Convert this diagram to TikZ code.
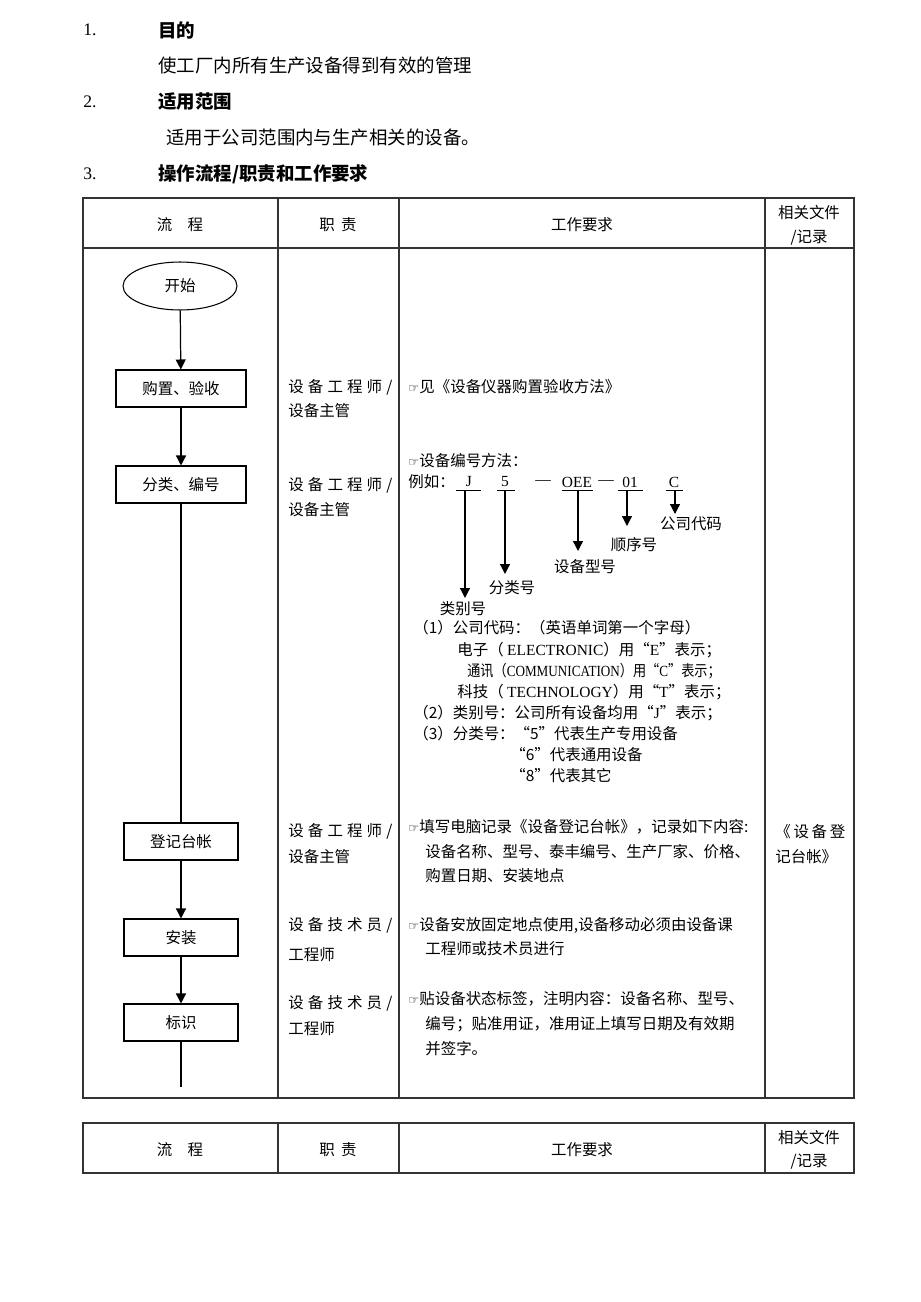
\documentclass[tikz,border=0pt]{standalone}
\usepackage{fontspec}
\setmainfont{Noto Sans CJK SC}
\newfontfamily\symfont{DejaVu Sans}
\newfontfamily\numfont{Liberation Serif}
\usetikzlibrary{shapes.geometric,arrows.meta}

\newcommand{\hand}{{\symfont\fontsize{7pt}{8pt}\selectfont ☞}}

\tikzset{
  every node/.style={inner sep=0pt},
  txt/.style={anchor=west,font=\fontsize{8.8pt}{10pt}\selectfont},
  big/.style={anchor=west,font=\fontsize{10.5pt}{12pt}\selectfont},
  bighd/.style={anchor=west,font=\fontsize{10.5pt}{12pt}\selectfont\bfseries},
  num/.style={anchor=west,font=\fontsize{10pt}{12pt}\numfont},
  hd/.style={font=\fontsize{8.8pt}{10pt}\selectfont},
  lbl/.style={font=\fontsize{8.8pt}{10pt}\selectfont},
  code/.style={font=\fontsize{8.8pt}{10pt}\numfont},
  widebox/.style={draw,line width=0.6pt,minimum width=2.6cm,minimum height=0.74cm,font=\fontsize{8.8pt}{10pt}\selectfont},
  smallbox/.style={draw,line width=0.6pt,minimum width=2.28cm,minimum height=0.74cm,font=\fontsize{8.8pt}{10pt}\selectfont},
  startshape/.style={draw,ellipse,line width=0.6pt,minimum width=2.28cm,minimum height=0.96cm,font=\fontsize{8.8pt}{10pt}\selectfont},
  flow/.style={line width=0.7pt},
  arr/.style={line width=0.7pt,-{Triangle[length=2mm,width=2mm]}},
  grid/.style={line width=0.6pt,black!80}
}

\begin{document}
\begin{tikzpicture}[x=0.02cm,y=-0.02cm]
\useasboundingbox (0,0) rectangle (920,1302);

% section headings
\node[num] (n1) at (83,30) {1.};
\node[bighd] (h1) at (158,30) {目的};
\node[big] (t1) at (158,66) {使工厂内所有生产设备得到有效的管理};
\node[num] (n2) at (83,102) {2.};
\node[bighd] (h2) at (158,102) {适用范围};
\node[big] (t2) at (166,138) {适用于公司范围内与生产相关的设备。};
\node[num] (n3) at (83,174) {3.};
\node[bighd] (h3) at (158,174) {操作流程/职责和工作要求};

% main table
\draw[grid] (83,198) rectangle (854,1098);
\draw[grid] (83,248) -- (854,248); % header line
\draw[grid] (278,198) -- (278,1098);
\draw[grid] (399,198) -- (399,1098);
\draw[grid] (765,198) -- (765,1098);

\node[hd] (colA) at (180,225) {流\hspace{1em}程};
\node[hd] (colB) at (338,225) {职\hspace{0.4em}责};
\node[hd] (colC) at (582,225) {工作要求};
\node[hd] (colD1) at (809,213) {相关文件};
\node[hd] (colD2) at (809,238) {/记录};

% flow column
\node[startshape] (start) at (180,286) {开始};
\node[widebox] (buy) at (181,388.5) {购置、验收};
\node[widebox] (sort) at (181,484.5) {分类、编号};
\node[smallbox] (book) at (181,841.5) {登记台帐};
\node[smallbox] (setup) at (181,937.5) {安装};
\node[smallbox] (mark) at (181,1022.5) {标识};
\coordinate (tail) at (181,1087);

\draw[arr] (start) -- (buy);
\draw[arr] (buy) -- (sort);
\draw[flow] (sort) -- (book);
\draw[arr] (book) -- (setup);
\draw[arr] (setup) -- (mark);
\draw[flow] (mark) -- (tail);

% duty column
\node[txt] (duty1a) at (288,387) {\makebox[2.08cm][s]{设 备 工 程 师 /}};
\node[txt] (duty1b) at (288,411) {设备主管};
\node[txt] (duty2a) at (288,485) {\makebox[2.08cm][s]{设 备 工 程 师 /}};
\node[txt] (duty2b) at (288,510) {设备主管};
\node[txt] (duty3a) at (288,831) {\makebox[2.08cm][s]{设 备 工 程 师 /}};
\node[txt] (duty3b) at (288,857) {设备主管};
\node[txt] (duty4a) at (288,925) {\makebox[2.08cm][s]{设 备 技 术 员 /}};
\node[txt] (duty4b) at (288,955) {工程师};
\node[txt] (duty5a) at (288,1003) {\makebox[2.08cm][s]{设 备 技 术 员 /}};
\node[txt] (duty5b) at (288,1029) {工程师};

% work requirements
\node[txt] (req1) at (408,387) {\hand 见《设备仪器购置验收方法》};
\node[txt] (req2a) at (408,461) {\hand 设备编号方法：};
\node[txt] (req2b) at (408,482) {例如：};

% numbering example
\node[code] (cJ) at (469,482) {J};
\node[code] (c5) at (505,482) {5};
\node[code] (dash1) at (543,482) {—};
\node[code] (cOEE) at (577,482) {OEE};
\node[code] (dash2) at (606,482) {—};
\node[code] (c01) at (630,482) {01};
\node[code] (cC) at (674,482) {C};

\coordinate (uJa) at (456,490);  \coordinate (uJb) at (481,490);
\coordinate (u5a) at (497,490);  \coordinate (u5b) at (515,490);
\coordinate (uOa) at (562,490);  \coordinate (uOb) at (593,490);
\coordinate (u1a) at (618,490);  \coordinate (u1b) at (643,490);
\coordinate (uCa) at (666,490);  \coordinate (uCb) at (683,490);
\draw (uJa) -- (uJb);
\draw (u5a) -- (u5b);
\draw (uOa) -- (uOb);
\draw (u1a) -- (u1b);
\draw (uCa) -- (uCb);

\node[lbl] (lbJ) at (463,609) {类别号};
\node[lbl] (lb5) at (512,588) {分类号};
\node[lbl] (lbO) at (585,567) {设备型号};
\node[lbl] (lb1) at (634,545) {顺序号};
\node[lbl] (lbC) at (691,524) {公司代码};

\coordinate (aJ) at (465,490);
\coordinate (a5) at (505,490);
\coordinate (aO) at (578,490);
\coordinate (a1) at (627,490);
\coordinate (aC) at (675,490);
\draw[arr] (aJ) -- (aJ |- 0,598);
\draw[arr] (a5) -- (a5 |- 0,574);
\draw[arr] (aO) -- (aO |- 0,551);
\draw[arr] (a1) -- (a1 |- 0,526);
\draw[arr] (aC) -- (aC |- 0,514);

% code explanations
\node[txt] (ex1) at (413,628) {（1）公司代码：（英语单词第一个字母）};
\node[txt] (ex1a) at (457,650) {电子（ {\numfont ELECTRONIC}）用“{\numfont E}”表示；};
\node[txt] (ex1b) at (467,671) {\scalebox{0.85}[1]{通讯（{\numfont COMMUNICATION}）用“{\numfont C}”表示；}};
\node[txt] (ex1c) at (457,692) {科技（ {\numfont TECHNOLOGY}）用“{\numfont T}”表示；};
\node[txt] (ex2) at (413,713) {（2）类别号：公司所有设备均用“{\numfont J}”表示；};
\node[txt] (ex3) at (413,734) {（3）分类号：“5”代表生产专用设备};
\node[txt] (ex3a) at (510,755) {“6”代表通用设备};
\node[txt] (ex3b) at (510,776) {“8”代表其它};

\node[txt] (req3a) at (408,827) {\hand 填写电脑记录《设备登记台帐》，记录如下内容:};
\node[txt] (req3b) at (425,852) {设备名称、型号、泰丰编号、生产厂家、价格、};
\node[txt] (req3c) at (425,876) {购置日期、安装地点};
\node[txt] (req4a) at (408,925) {\hand 设备安放固定地点使用,设备移动必须由设备课};
\node[txt] (req4b) at (425,949) {工程师或技术员进行};
\node[txt] (req5a) at (408,999) {\hand 贴设备状态标签，注明内容：设备名称、型号、};
\node[txt] (req5b) at (425,1024) {编号；贴准用证，准用证上填写日期及有效期};
\node[txt] (req5c) at (425,1049) {并签字。};

% related documents
\node[txt] (doc1a) at (775,832) {\makebox[1.4cm][s]{《 设 备 登}};
\node[txt] (doc1b) at (775,857) {记台帐》};

% second table header
\draw[grid] (83,1123) rectangle (854,1173);
\draw[grid] (278,1123) -- (278,1173);
\draw[grid] (399,1123) -- (399,1173);
\draw[grid] (765,1123) -- (765,1173);
\node[hd] (colA2) at (180,1150) {流\hspace{1em}程};
\node[hd] (colB2) at (338,1150) {职\hspace{0.4em}责};
\node[hd] (colC2) at (582,1150) {工作要求};
\node[hd] (colD21) at (809,1138) {相关文件};
\node[hd] (colD22) at (809,1162) {/记录};

\end{tikzpicture}
\end{document}
